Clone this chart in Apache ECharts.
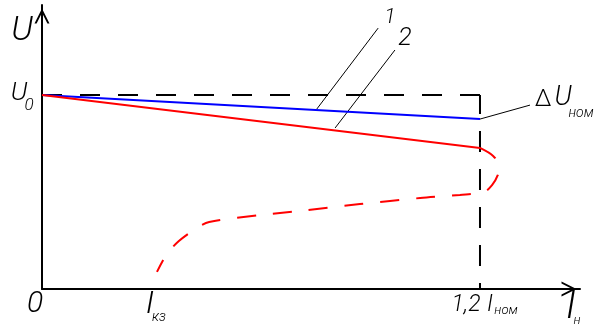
<!DOCTYPE html>
<html>
<head>
<meta charset="utf-8">
<script src="https://cdn.jsdelivr.net/npm/echarts@6/dist/echarts.min.js"></script>
<style>
html, body { margin: 0; padding: 0; background: #fff; }
#chart { width: 599px; height: 332px; }
</style>
</head>
<body>
<div id="chart"></div>
<script>
// x in units of I_nom, y in units of U0
var curve1 = [[0, 1], [1.2, 0.876]];
var curve2 = [[0, 1], [1.2, 0.727]];
var curve2Tail = [
    [1.2, 0.727], [1.236, 0.686], [1.252, 0.634], [1.249, 0.588], [1.233, 0.536],
    [1.211, 0.5], [1.145, 0.485], [1.036, 0.469], [0.871, 0.438], [0.707, 0.402],
    [0.597, 0.381], [0.458, 0.345], [0.416, 0.304], [0.375, 0.247], [0.342, 0.18],
    [0.315, 0.088]
];
var frameTop = [[0, 1], [1.2, 1]];
var frameRight = [[1.2, 1], [1.2, 0]];
// leader lines to the labels
var leader1 = [[0.753, 0.928], [0.921, 1.345]];
var leader2 = [[0.803, 0.830], [0.967, 1.232]];
var leaderDU = [[1.2, 0.876], [1.337, 0.948]];

var xMax = 1.474, yMax = 1.464;

var chevron = 'path://M50,0 L100,100 L86,100 L50,28 L14,100 L0,100 Z';
var FONT = 'Roboto';

function txt(x, y, text, size, style) {
    return {
        type: 'text', x: x, y: y, silent: true,
        style: {
            text: text,
            font: (style || 'italic') + ' 300 ' + size + 'px ' + FONT,
            fill: '#000',
            align: 'center',
            verticalAlign: 'middle'
        }
    };
}

function plainLine(data, color, width, dash, offset) {
    return {
        type: 'line',
        data: data,
        symbol: 'none',
        silent: true,
        lineStyle: { color: color, width: width, type: dash || 'solid', dashOffset: offset || 0 }
    };
}

var myChart = echarts.init(document.getElementById('chart'));
var option = {
    animation: false,
    grid: { left: 42, top: 5, width: 538, height: 284 },
    xAxis: {
        type: 'value', min: 0, max: xMax,
        axisLine: {
            show: true, onZero: false,
            symbol: ['none', chevron], symbolSize: [15, 22], symbolOffset: [0, -11],
            lineStyle: { color: '#000', width: 2 }
        },
        axisTick: { show: false }, axisLabel: { show: false }, splitLine: { show: false }
    },
    yAxis: {
        type: 'value', min: 0, max: yMax,
        axisLine: {
            show: true, onZero: false,
            symbol: ['none', chevron], symbolSize: [15, 22], symbolOffset: [0, -11],
            lineStyle: { color: '#000', width: 2 }
        },
        axisTick: { show: false }, axisLabel: { show: false }, splitLine: { show: false }
    },
    series: [
        plainLine(frameTop, '#000', 2, [20, 18]),
        plainLine(frameRight, '#000', 2, [21, 17], 2),
        plainLine(leader1, '#000', 1),
        plainLine(leader2, '#000', 1),
        plainLine(leaderDU, '#000', 1),
        plainLine(curve1, '#0000ff', 2),
        plainLine(curve2, '#ff0000', 2),
        {
            type: 'line',
            data: curve2Tail,
            symbol: 'none',
            silent: true,
            smooth: 0.3,
            lineStyle: { color: '#ff0000', width: 2, type: [19, 17] }
        }
    ],
    graphic: [
        txt(22, 31, 'U', 34),
        txt(19, 93, 'U', 26),
        txt(29, 106, '0', 17),
        txt(35, 304, '0', 30),
        txt(150, 305, 'I', 32),
        txt(159, 317, 'кз', 14),
        txt(466, 305, '1,2', 23),
        txt(490, 305, 'I', 23),
        txt(506, 311, 'ном', 13),
        txt(571, 308, 'I', 38),
        txt(577, 321, 'н', 13),
        txt(543, 100, 'Δ', 24, 'normal'),
        txt(563, 98, 'U', 27),
        txt(581, 113, 'ном', 14),
        txt(390, 18, '1', 21),
        txt(405, 39, '2', 25)
    ]
};
myChart.setOption(option);
</script>
</body>
</html>
